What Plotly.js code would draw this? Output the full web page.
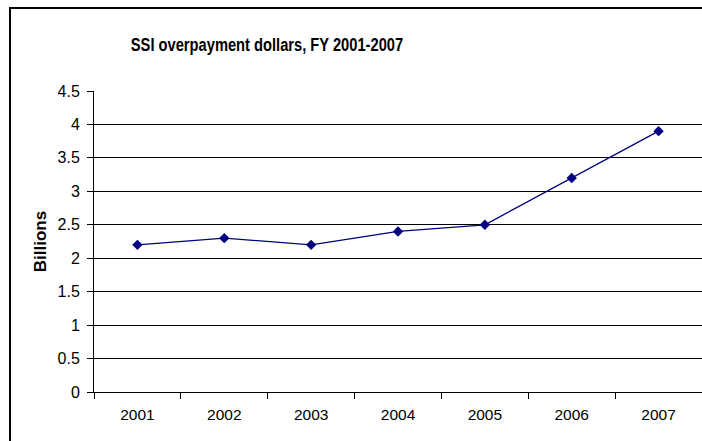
<!DOCTYPE html>
<html><head><meta charset="utf-8">
<script src="https://cdn.plot.ly/plotly-3.0.1.min.js"></script>
<style>html,body{margin:0;padding:0;background:#fff}</style>
</head><body>
<div id="chart" style="width:702px;height:441px"></div>
<script>
const years = ['2001','2002','2003','2004','2005','2006','2007'];
const overpayments = [2.2, 2.3, 2.2, 2.4, 2.5, 3.2, 3.9];
const yTicks = [0, 0.5, 1, 1.5, 2, 2.5, 3, 3.5, 4, 4.5];
const yTickText = ['0','0.5','1','1.5','2','2.5','3','3.5','4','4.5'];

const L = 94, T = 91, W = 702, H = 441, B = 49;
const plotW = W - L, plotH = H - T - B;
const px = v => (v - L) / plotW;
const py = v => (H - B - v) / plotH;

const font = 'Arial, "Liberation Sans", sans-serif';
Plotly.newPlot('chart', [{
  x: years, y: overpayments, type: 'scatter', mode: 'lines+markers',
  line: {color: '#000080', width: 1.3},
  marker: {symbol: 'diamond', size: 8, color: '#000080'},
  hoverinfo: 'skip'
}], {
  width: W, height: H,
  margin: {l: L, r: 0, t: T, b: B},
  paper_bgcolor: '#fff', plot_bgcolor: '#fff',
  showlegend: false,
  font: {family: font, color: '#000', size: 15},
  title: {text: '<b>SSI overpayment dollars, FY 2001-2007</b>', font: {family: font, size: 14.7, color: '#000'},
    x: 267 / W, xanchor: 'center', y: 1 - 44 / H, yanchor: 'middle'},
  xaxis: {type: 'category', range: [-0.5, 6.5], tickson: 'boundaries', ticks: 'outside', ticklen: 6,
    ticklabelstandoff: 8,
    tickcolor: '#000', showgrid: false, showline: true, linecolor: '#000', linewidth: 1,
    tickfont: {family: font, size: 15.5, color: '#000'}, zeroline: false, fixedrange: true},
  yaxis: {range: [0, 4.5], tickvals: yTicks, ticktext: yTickText, ticks: 'outside', ticklen: 6,
    ticklabelstandoff: 4,
    tickcolor: '#000', showgrid: true, gridcolor: '#000', gridwidth: 1, showline: true, linecolor: '#000',
    linewidth: 1, zeroline: false, tickfont: {family: font, size: 16, color: '#000'},
    title: {text: '<b>Billions</b>', font: {family: font, size: 17, color: '#000'}, standoff: 6},
    fixedrange: true},
  shapes: [{type: 'rect', xref: 'paper', yref: 'paper', x0: px(10), x1: px(720), y0: py(460), y1: py(8),
    line: {color: '#000', width: 2}, fillcolor: 'rgba(0,0,0,0)'}]
}, {staticPlot: true}).then(gd => {
  const t = gd.querySelector('.gtitle');
  if (t) {
    const bb = t.getBBox();
    const cy = bb.y + bb.height / 2;
    t.setAttribute('transform', `translate(0,${cy}) scale(1,1.3) translate(0,${-cy})`);
  }
});
</script>
</body></html>
